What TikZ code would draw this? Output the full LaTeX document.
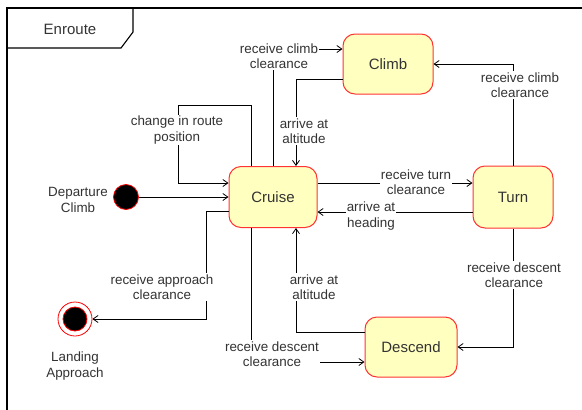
\documentclass[tikz,border=0pt]{standalone}
\usepackage{fontspec}
\setmainfont{Liberation Sans}
\usepackage{tikz}
\usetikzlibrary{arrows.meta}
\definecolor{statefill}{HTML}{FFFFC0}
\definecolor{stateline}{HTML}{FF3333}
\definecolor{txtgray}{HTML}{333333}

\begin{document}
\begin{tikzpicture}[x=1pt,y=-1pt]
        \tikzstyle{state} = [rectangle, rounded corners=12pt, minimum height=60pt, draw=stateline, fill=statefill, line width=1pt, text=txtgray, font=\fontsize{15}{18}\selectfont]
        \tikzstyle{pseudo} = [circle, inner sep=0pt, draw=red, line width=0.8pt]
        \tikzstyle{edgetext} = [fill=white, align=center, inner sep=1pt, text=txtgray, font=\fontsize{13.4}{15.5}\selectfont]
        \tikzstyle{arrow} = [line width=0.8pt, ->, >={Straight Barb[length=5pt,width=7pt]}]

        \useasboundingbox (0,0) rectangle (582,410);
        \draw [line width=1.1pt] (7,430) -- (7,8) -- (600,8);
        \draw [line width=1.1pt] (7,48) -- (121,48) -- (133,32) -- (133,8);
        \node (enroute) [text=txtgray, font=\fontsize{15}{18}\selectfont] at (70,29) {Enroute};

        \node (climb) [state, minimum width=90pt] at (388,64) {Climb};
        \node (cruise) [state, minimum width=88pt, minimum height=61pt] at (273,197) {Cruise};
        \node (turn) [state, minimum width=80pt, minimum height=62pt] at (513,197) {Turn};
        \node (descend) [state, minimum width=92pt] at (411,347) {Descend};
        \node (dep) [pseudo, fill=black, minimum size=25pt] at (126,197) {};
        \node (land) [pseudo, fill=white, minimum size=34pt] at (75,319) {};
        \node (landdot) [pseudo, fill=black, minimum size=24pt] at (land) {};
        \node (deptext) [edgetext, fill=none] at (78,200) {Departure\\Climb};
        \node (landtext) [edgetext, fill=none] at (75,366) {Landing\\Approach};
        \coordinate (loop) at (178,105);

        \draw [arrow] (cruise.north) |- ([yshift=15pt]climb.west);
        \draw [arrow] ([yshift=-15pt]climb.west) -| ([xshift=23pt]cruise.north);
        \draw [arrow] ([xshift=-22pt]cruise.north) |- (loop) |- ([yshift=14pt]cruise.west);
        \draw [arrow] (dep) -- (cruise.west);
        \draw [arrow] ([yshift=-14pt]cruise.west) -- ++(-22,0) |- (land.east);
        \draw [arrow] ([yshift=14pt]cruise.east) -- ([yshift=14pt]turn.west);
        \draw [arrow] ([yshift=-15pt]turn.west) -- ([yshift=-15pt]cruise.east);
        \draw [arrow] (turn.north) |- (climb.east);
        \draw [arrow] (turn.south) |- (descend.east);
        \draw [arrow] ([yshift=15pt]descend.west) -| ([xshift=23pt]cruise.south);
        \draw [arrow] ([xshift=-22pt]cruise.south) |- ([yshift=-15pt]descend.west);

        \node (climbreq) [edgetext] at (279,56) {receive climb\\clearance};
        \node (climbdone) [edgetext] at (304,131) {arrive at\\altitude};
        \node (reroute) [edgetext] at (177,130) {change in route\\position};
        \node (approach) [edgetext] at (162,287) {receive approach\\clearance};
        \node (turnreq) [edgetext] at (416,182) {receive turn\\clearance};
        \node (turndone) [edgetext] at (371,216) {arrive at\\heading};
        \node (climbreq2) [edgetext] at (520,85) {receive climb\\clearance};
        \node (descreq) [edgetext] at (514,275) {receive descent\\clearance};
        \node (descdone) [edgetext] at (314,287) {arrive at\\altitude};
        \node (descreq2) [edgetext] at (272,354) {receive descent\\clearance};
    \end{tikzpicture}
\end{document}
